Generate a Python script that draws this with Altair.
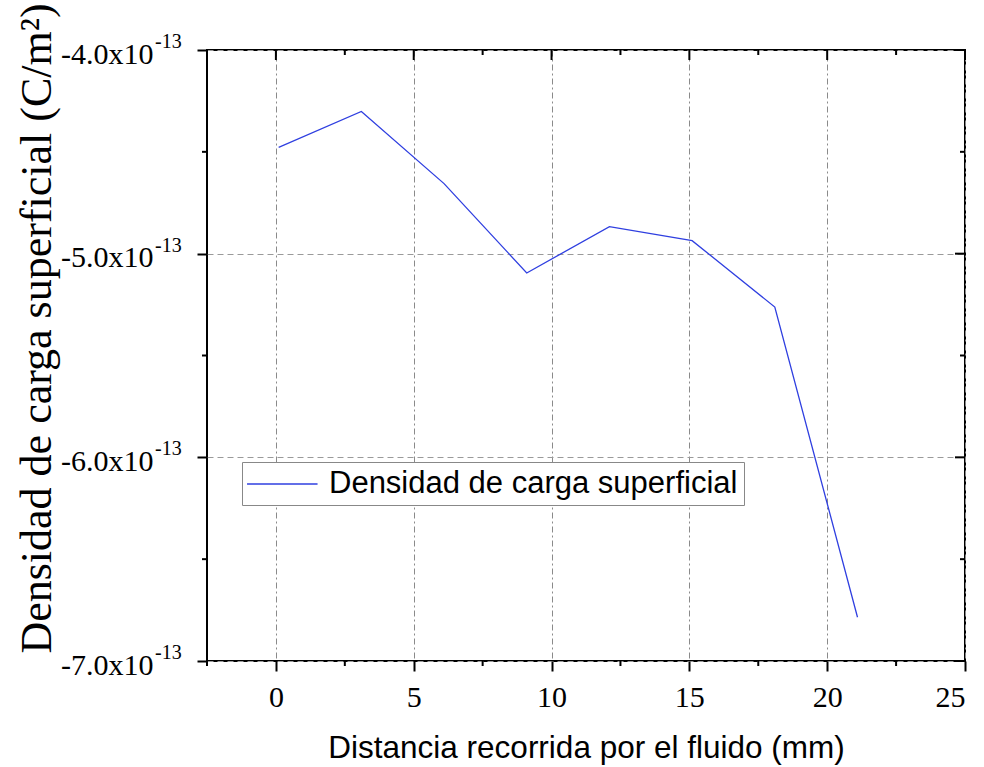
import altair as alt
import pandas as pd

# Measured surface charge density along the fluid path
distancia_mm = [0.1, 3.1, 6.1, 9.1, 12.1, 15.1, 18.1, 21.1]
densidad = [-4.478e-13, -4.302e-13, -4.656e-13, -5.095e-13,
            -4.867e-13, -4.936e-13, -5.262e-13, -6.785e-13]
serie = "Densidad de carga superficial"

# Axis ticks
x_major = [0, 5, 10, 15, 20, 25]
x_minor = [-2.5, 2.5, 7.5, 12.5, 17.5, 22.5]
y_major = [-4e-13, -5e-13, -6e-13, -7e-13]
y_minor = [-4.5e-13, -5.5e-13, -6.5e-13]
y_exp = "-13"

X_TITLE = "Distancia recorrida por el fluido (mm)"
Y_TITLE = "Densidad de carga superficial (C/m²)"

W, H = 758, 611
BLUE = "#2f3fe0"

df = pd.DataFrame({"x": distancia_mm, "y": densidad, "serie": [serie] * len(distancia_mm)})

xs = alt.Scale(domain=[-2.5, 25], nice=False, zero=False)
ys = alt.Scale(domain=[-7e-13, -4e-13], nice=False, zero=False)

x_axis = alt.Axis(values=x_major, title=X_TITLE,
                  grid=True, gridDash=[6, 3, 2, 3], gridColor="#8a8a8a",
                  gridWidth=1, domain=False, tickSize=10, tickWidth=2,
                  tickColor="black", labelFont="Liberation Serif",
                  labelFontSize=30, labelColor="black", labelPadding=11,
                  titleFont="Liberation Sans", titleFontSize=31.5,
                  titleFontWeight="normal", titleColor="black",
                  titleY=96, titleBaseline="alphabetic")

y_axis = alt.Axis(values=y_major, title=Y_TITLE,
                  grid=True, gridDash=[6, 4], gridColor="#9a9a9a", gridWidth=1,
                  domain=False, tickSize=10, tickWidth=2, tickColor="black",
                  labelExpr="'-' + format(abs(datum.value) * 1e13, '.1f') + 'x10'",
                  labelFont="Liberation Serif", labelFontSize=30,
                  labelColor="black", labelPadding=44, labelAlign="right",
                  labelBaseline="alphabetic", labelOffset=13,
                  titleFont="Liberation Serif", titleFontSize=44,
                  titleFontWeight="normal", titleColor="black",
                  titleAngle=270, titleX=-157, titleY=278,
                  titleAlign="center", titleBaseline="alphabetic")

# Legend sample: a wide horizontal stroke on a compact symbol box
legend_symbol = "M-1.13,0H3.57"

line = alt.Chart(df).mark_line(strokeWidth=1.3).encode(
    x=alt.X("x:Q", scale=xs, axis=x_axis),
    y=alt.Y("y:Q", scale=ys, axis=y_axis),
    color=alt.Color("serie:N",
                    scale=alt.Scale(domain=[serie], range=[BLUE]),
                    legend=alt.Legend(title=None, orient="none", legendX=35, legendY=412,
                                      symbolType=legend_symbol, symbolSize=900,
                                      symbolStrokeWidth=1.3, labelFont="Liberation Sans",
                                      labelFontSize=31, labelColor="black", labelOffset=49,
                                      labelLimit=0, padding=6, strokeColor="#888888",
                                      fillColor="white", cornerRadius=0)),
)

# Exponent written after each y tick label
exp_df = pd.DataFrame({"y": y_major, "e": [y_exp] * len(y_major)})
exps = alt.Chart(exp_df).mark_text(font="Liberation Serif", fontSize=20, align="left",
                                   baseline="alphabetic", dy=-2, color="black").encode(
    y=alt.Y("y:Q", scale=ys, title=Y_TITLE), x=alt.value(-52), text="e:N")

xmin_df = pd.DataFrame({"x": x_minor})
xmaj_df = pd.DataFrame({"x": x_major})
ymin_df = pd.DataFrame({"y": y_minor})
ymaj_df = pd.DataFrame({"y": y_major})


def vticks(d, y0, y1):
    return alt.Chart(d).mark_rule(color="black", strokeWidth=2).encode(
        x=alt.X("x:Q", scale=xs, title=X_TITLE), y=alt.value(y0), y2=alt.value(y1))


def hticks(d, x0, x1):
    return alt.Chart(d).mark_rule(color="black", strokeWidth=2).encode(
        y=alt.Y("y:Q", scale=ys, title=Y_TITLE), x=alt.value(x0), x2=alt.value(x1))


ticks = [
    vticks(xmin_df, H, H + 5),      # bottom minor, outward
    vticks(xmaj_df, 0, 10),         # top major, inward
    vticks(xmin_df, 0, 5),          # top minor, inward
    hticks(ymin_df, -5, 0),         # left minor, outward
    hticks(ymaj_df, W - 10, W),     # right major, inward
    hticks(ymin_df, W - 5, W),      # right minor, inward
]

chart = alt.layer(line, exps, *ticks).properties(
    width=W, height=H,
    autosize=alt.AutoSizeParams(type="none"),
    padding={"left": 207, "top": 50, "right": 19, "bottom": 106},
    background="white",
).configure_view(stroke="black", strokeWidth=2)

chart.save("out.html", embed_options={"renderer": "svg", "actions": False})
